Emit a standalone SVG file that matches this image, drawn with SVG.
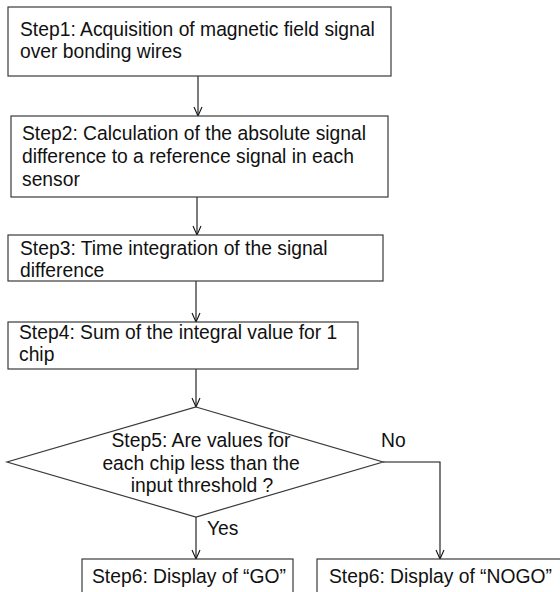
<svg xmlns="http://www.w3.org/2000/svg" width="560" height="592" viewBox="0 0 560 592">
<defs>
<style>
.box{fill:#fff;stroke:#3a3a3a;stroke-width:1.2}
.t{font-family:"Liberation Sans",Arial,sans-serif;font-size:19.3px;fill:#111}
.c{text-anchor:middle}
.ln{fill:none;stroke:#111;stroke-width:1.1}
</style>
<marker id="ah" markerUnits="userSpaceOnUse" markerWidth="12" markerHeight="12" viewBox="-10 -6 12 12" refX="0" refY="0" orient="auto">
<path d="M-9,-4 L0,0 L-9,4" fill="none" stroke="#111" stroke-width="1.1"/>
</marker>
</defs>
<rect width="560" height="592" fill="#fff"/>
<g id="connectors">
<line class="ln" x1="198" y1="76" x2="198" y2="116" marker-end="url(#ah)"/>
<line class="ln" x1="197" y1="197" x2="197" y2="235" marker-end="url(#ah)"/>
<line class="ln" x1="196" y1="281" x2="196" y2="322" marker-end="url(#ah)"/>
<line class="ln" x1="196" y1="369" x2="196" y2="407" marker-end="url(#ah)"/>
<line class="ln" x1="196" y1="517" x2="196" y2="559" marker-end="url(#ah)"/>
<polyline class="ln" points="383,462 440,462 440,559" marker-end="url(#ah)"/>
<text class="t" x="207" y="535">Yes</text>
<text class="t" x="381" y="447">No</text>
</g>
<g id="step1">
<rect class="box" x="8" y="7" width="383" height="69"/>
<text class="t" x="20" y="36">Step1: Acquisition of magnetic field signal</text>
<text class="t" x="20" y="58">over bonding wires</text>
</g>
<g id="step2">
<rect class="box" x="11" y="116" width="377" height="81"/>
<text class="t" x="22" y="140">Step2: Calculation of the absolute signal</text>
<text class="t" x="22" y="163">difference to a reference signal in each</text>
<text class="t" x="22" y="186">sensor</text>
</g>
<g id="step3">
<rect class="box" x="8" y="235" width="375" height="46"/>
<text class="t" x="20" y="255">Step3: Time integration of the signal</text>
<text class="t" x="20" y="277">difference</text>
</g>
<g id="step4">
<rect class="box" x="8" y="322" width="350" height="47"/>
<text class="t" x="19" y="339">Step4: Sum of the integral value for 1</text>
<text class="t" x="19" y="361">chip</text>
</g>
<g id="step5">
<polygon class="box" points="196,407 383,462 196,517 7,462"/>
<text class="t c" x="201" y="447">Step5: Are values for</text>
<text class="t c" x="201" y="470">each chip less than the</text>
<text class="t c" x="202" y="492">input threshold ?</text>
</g>
<g id="step6go">
<rect class="box" x="82" y="559" width="211" height="50"/>
<text class="t" x="92" y="583">Step6: Display of “GO”</text>
</g>
<g id="step6nogo">
<rect class="box" x="317" y="559" width="260" height="50"/>
<text class="t" x="329" y="583">Step6: Display of “NOGO”</text>
</g>
</svg>
